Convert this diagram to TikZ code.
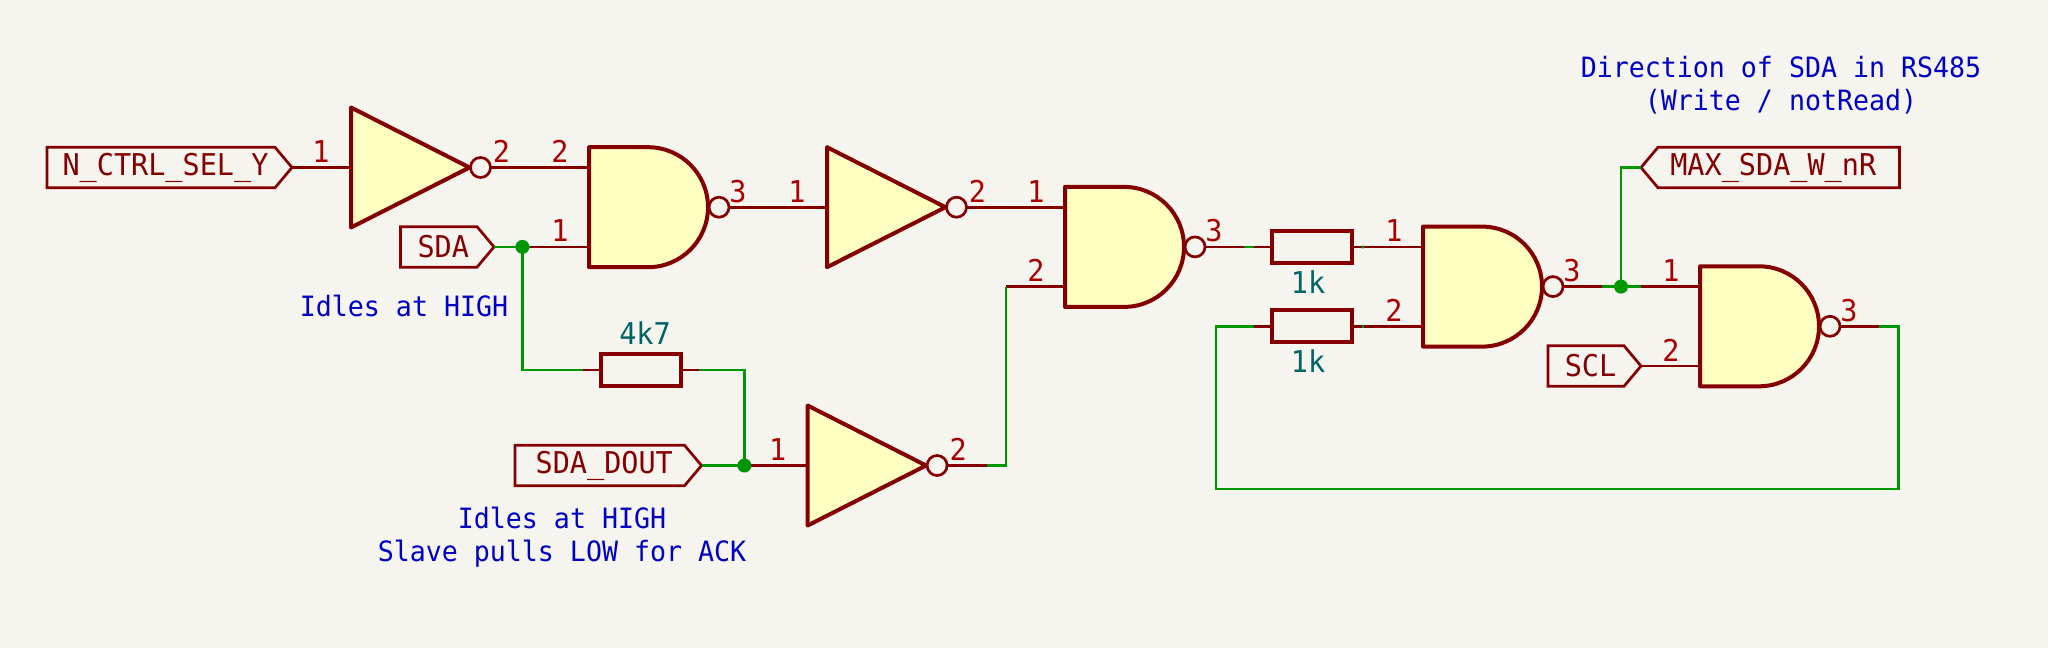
\documentclass[tikz,border=0pt]{standalone}
\usepackage{fontspec}
\newfontfamily\schfont[FakeStretch=0.95]{DejaVu Sans Mono}
\usetikzlibrary{shapes.symbols}
\definecolor{sheet}{HTML}{F5F4EF}
\definecolor{partred}{HTML}{840000}
\definecolor{pinred}{HTML}{A90000}
\definecolor{partfill}{HTML}{FFFFC2}
\definecolor{wiregreen}{HTML}{009600}
\definecolor{notesblue}{HTML}{0000C2}
\definecolor{valueteal}{HTML}{006464}
\tikzset{
 wire/.style={wiregreen,line width=2.7pt},
 pin/.style={partred,line width=2.7pt},
 body/.style={partred,line width=4pt,fill=partfill,line join=round},
 bubble/.style={partred,line width=2.7pt},
 junc/.style={circle,fill=wiregreen,inner sep=0pt,minimum size=14pt},
 res/.style={draw=partred,line width=4pt,inner sep=0pt,minimum width=80pt,minimum height=32pt,outer sep=0pt},
 pinnum/.style={pinred,font=\schfont\fontsize{30}{32}\selectfont,inner sep=0pt,anchor=base},
 value/.style={valueteal,font=\schfont\fontsize{30}{32}\selectfont,inner sep=0pt,anchor=base},
 notes/.style={notesblue,font=\schfont\fontsize{28}{32.5}\selectfont,inner sep=0pt,align=center},
 siglab/.style={draw=partred,line width=2.7pt,text=partred,font=\schfont\fontsize{30}{32}\selectfont,
   shape=signal,signal pointer angle=100,minimum height=40.5pt,inner sep=0pt,outer sep=0pt},
 sigin/.style={siglab,signal to=east,anchor=east,execute at begin node=\hspace*{9pt}},
 sigout/.style={siglab,signal to=west,anchor=west,execute at end node=\hspace*{11pt}},
 pics/notgate/.style args={#1/#2}{code={
  \coordinate (-a) at (-59,0);
  \coordinate (-y) at (179,0);
  \draw[pin] (-a) -- (0,0);
  \draw[pin] (140,0) -- (-y);
  \draw[body] (0,-60) -- (118.5,0) -- (0,60) -- cycle;
  \draw[bubble] (129.5,0) circle[radius=10pt];
  \node[pinnum] (-n1) at (-30,-5) {#1};
  \node[pinnum] (-n2) at (150.5,-5) {#2};
 }},
 pics/nandgate/.style args={#1/#2/#3}{code={
  \coordinate (-a) at (-59,-39.7);
  \coordinate (-b) at (-59,39.7);
  \coordinate (-y) at (179,0);
  \draw[pin] (-a) -- (0,-39.7);
  \draw[pin] (-b) -- (0,39.7);
  \draw[pin] (140,0) -- (-y);
  \draw[body] (0,-60) -- (59,-60) arc[start angle=90,delta angle=-180,radius=60pt] -- (0,60) -- cycle;
  \draw[bubble] (130,0) circle[radius=10pt];
  \node[pinnum] (-n1) at (-29,-44.7) {#1};
  \node[pinnum] (-n2) at (-29,34.7) {#2};
  \node[pinnum] (-n3) at (149,-5) {#3};
 }},
}

\begin{document}
\begin{tikzpicture}[x=1pt,y=-1pt]
 \useasboundingbox (0,0) rectangle (2048,648);
 \fill[sheet] (0,0) rectangle (2048,648);

 % labels
 \node[sigin,minimum width=245pt] (ctrl) at (292,167.5) {N\_CTRL\_SEL\_Y};
 \node[sigin,minimum width=93.5pt] (sda) at (494,246.9) {SDA};
 \node[sigin,minimum width=186.5pt] (dout) at (701.5,465.5) {SDA\_DOUT};
 \node[sigin,minimum width=93pt] (scl) at (1641,366) {SCL};
 \node[sigout,minimum width=258.5pt] (max) at (1641,167.5) {MAX\_SDA\_W\_nR};

 % junctions and loop corners
 \coordinate (ja) at (522.4,246.9);
 \coordinate (jb) at (744.4,465.5);
 \coordinate (jc) at (1621,286.6);
 \coordinate (loopr) at (1898.5,489);
 \coordinate (loopl) at (1216,489);

 % resistors
 \node[res] (ra) at (641.3,370) {};
 \node[res] (rb) at (1311.5,246.9) {};
 \node[res] (rc) at (1311.5,326.3) {};
 \draw[pin] (ra.west) -- ++(-18,0) coordinate (ra-l);
 \draw[pin] (ra.east) -- ++(18,0) coordinate (ra-r);
 \draw[pin] (rb.west) -- ++(-18,0) coordinate (rb-l);
 \draw[pin] (rb.east) -- ++(10,0) coordinate (rb-r);
 \draw[pin] (rc.west) -- ++(-18,0) coordinate (rc-l);
 \draw[pin] (rc.east) -- ++(10,0) coordinate (rc-r);
 \node[value] (va) at (645,344) {4k7};
 \node[value] (vb) at (1308,293) {1k};
 \node[value] (vc) at (1308,372) {1k};

 % gates
 \pic (ia) at (351,167.5) {notgate=1/2};
 \pic (ib) at (827,207.2) {notgate=1/2};
 \pic (ic) at (807.6,465.5) {notgate=1/2};
 \pic (ga) at (589,207.2) {nandgate=2/1/3};
 \pic (gb) at (1065,246.9) {nandgate=1/2/3};
 \pic (gc) at (1423,286.6) {nandgate=1/2/3};
 \pic (gd) at (1700,326.3) {nandgate=1/2/3};

 % wires
 \draw[pin] (ctrl.east) -- (ia-a);
 \draw[pin] (scl.east) -- (gd-b);
 \draw[wire] (sda.east) -- (ga-b);
 \draw[wire] (ja) |- (ra-l);
 \draw[wire] (ra-r) -| (jb);
 \draw[wire] (dout.east) -- (ic-a);
 \draw[wire] (ic-y) -| (gb-b);
 \draw[wire] (gb-y) -- (rb-l);
 \draw[wire] (rb-r) -- (gc-a);
 \draw[wire] (rc-r) -- (gc-b);
 \draw[wire] (gc-y) -- (gd-a);
 \draw[wire] (jc) |- (max.west);
 \draw[wire] (gd-y) -| (loopr) -- (loopl) |- (rc-l);
 \node[junc] (dota) at (ja) {};
 \node[junc] (dotb) at (jb) {};
 \node[junc] (dotc) at (jc) {};

 % notes
 \node[notes,anchor=base] (noa) at (404,316) {Idles at HIGH};
 \node[notes,anchor=south] (nob) at (562,567.5) {Idles at HIGH\\Slave pulls LOW for ACK};
 \node[notes,anchor=south] (noc) at (1781,114) {Direction of SDA in RS485\\(Write / notRead)};
\end{tikzpicture}
\end{document}
